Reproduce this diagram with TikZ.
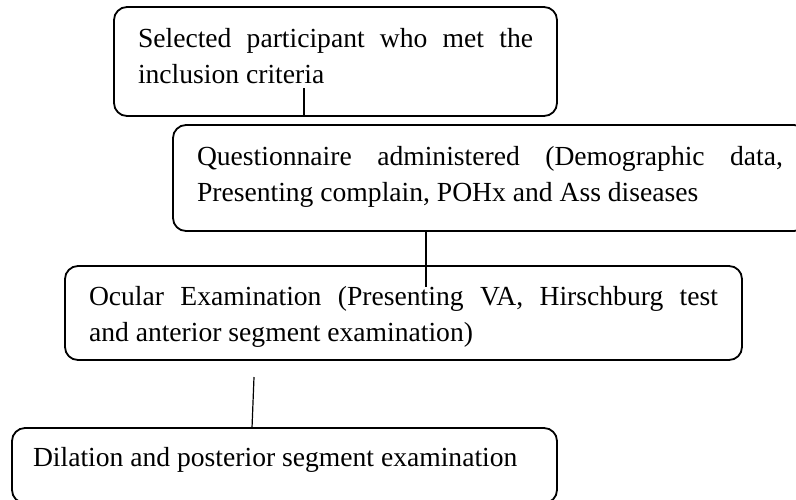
\documentclass[tikz,border=0pt]{standalone}
\usepackage{fontspec}
\setmainfont{Liberation Serif}
\hyphenpenalty=10000
\exhyphenpenalty=10000
\begin{document}
\begin{tikzpicture}[
    x=0.5pt,
    y=-0.5pt,
    font=\fontsize{13.8pt}{18pt}\selectfont,
    stage/.style={
        draw,
        line width=0.9pt,
        rounded corners=6.5pt,
        anchor=north west,
        align=justify,
        inner xsep=12pt,
        inner ysep=0pt,
        outer sep=0pt
    },
    link/.style={
        line width=0.6pt
    }
]
    \useasboundingbox (0,0) rectangle (796,499);

    \node[stage, text width=197.5pt, text height=20pt, text depth=34.5pt]
        (selected) at (114,7)
        {Selected participant who met the\linebreak
         inclusion criteria};
    \node[stage, text width=293pt, text height=20pt, text depth=33pt]
        (questionnaire) at (173,125)
        {Questionnaire administered (Demographic data,\linebreak
         Presenting complain, POHx and Ass diseases};
    \node[stage, text width=314.5pt, text height=19.5pt, text depth=27.5pt]
        (ocular) at (65,266)
        {Ocular Examination (Presenting VA, Hirschburg test\linebreak
         and anterior segment examination)};
    \node[stage, inner xsep=10.5pt, text width=251.5pt, text height=19pt,
        text depth=18.5pt]
        (dilation) at (12,428)
        {Dilation and posterior segment examination};

    \coordinate (stub1) at (304,88);
    \coordinate (stub2) at (426,287);
    \coordinate (stub3) at (254,377);

    \draw[link] (stub1) -- (stub1 |- selected.south);
    \draw[link] (questionnaire.south -| stub2) -- (stub2);
    \draw[link] (stub3) -- ([xshift=-1pt]stub3 |- dilation.north);
\end{tikzpicture}
\end{document}
